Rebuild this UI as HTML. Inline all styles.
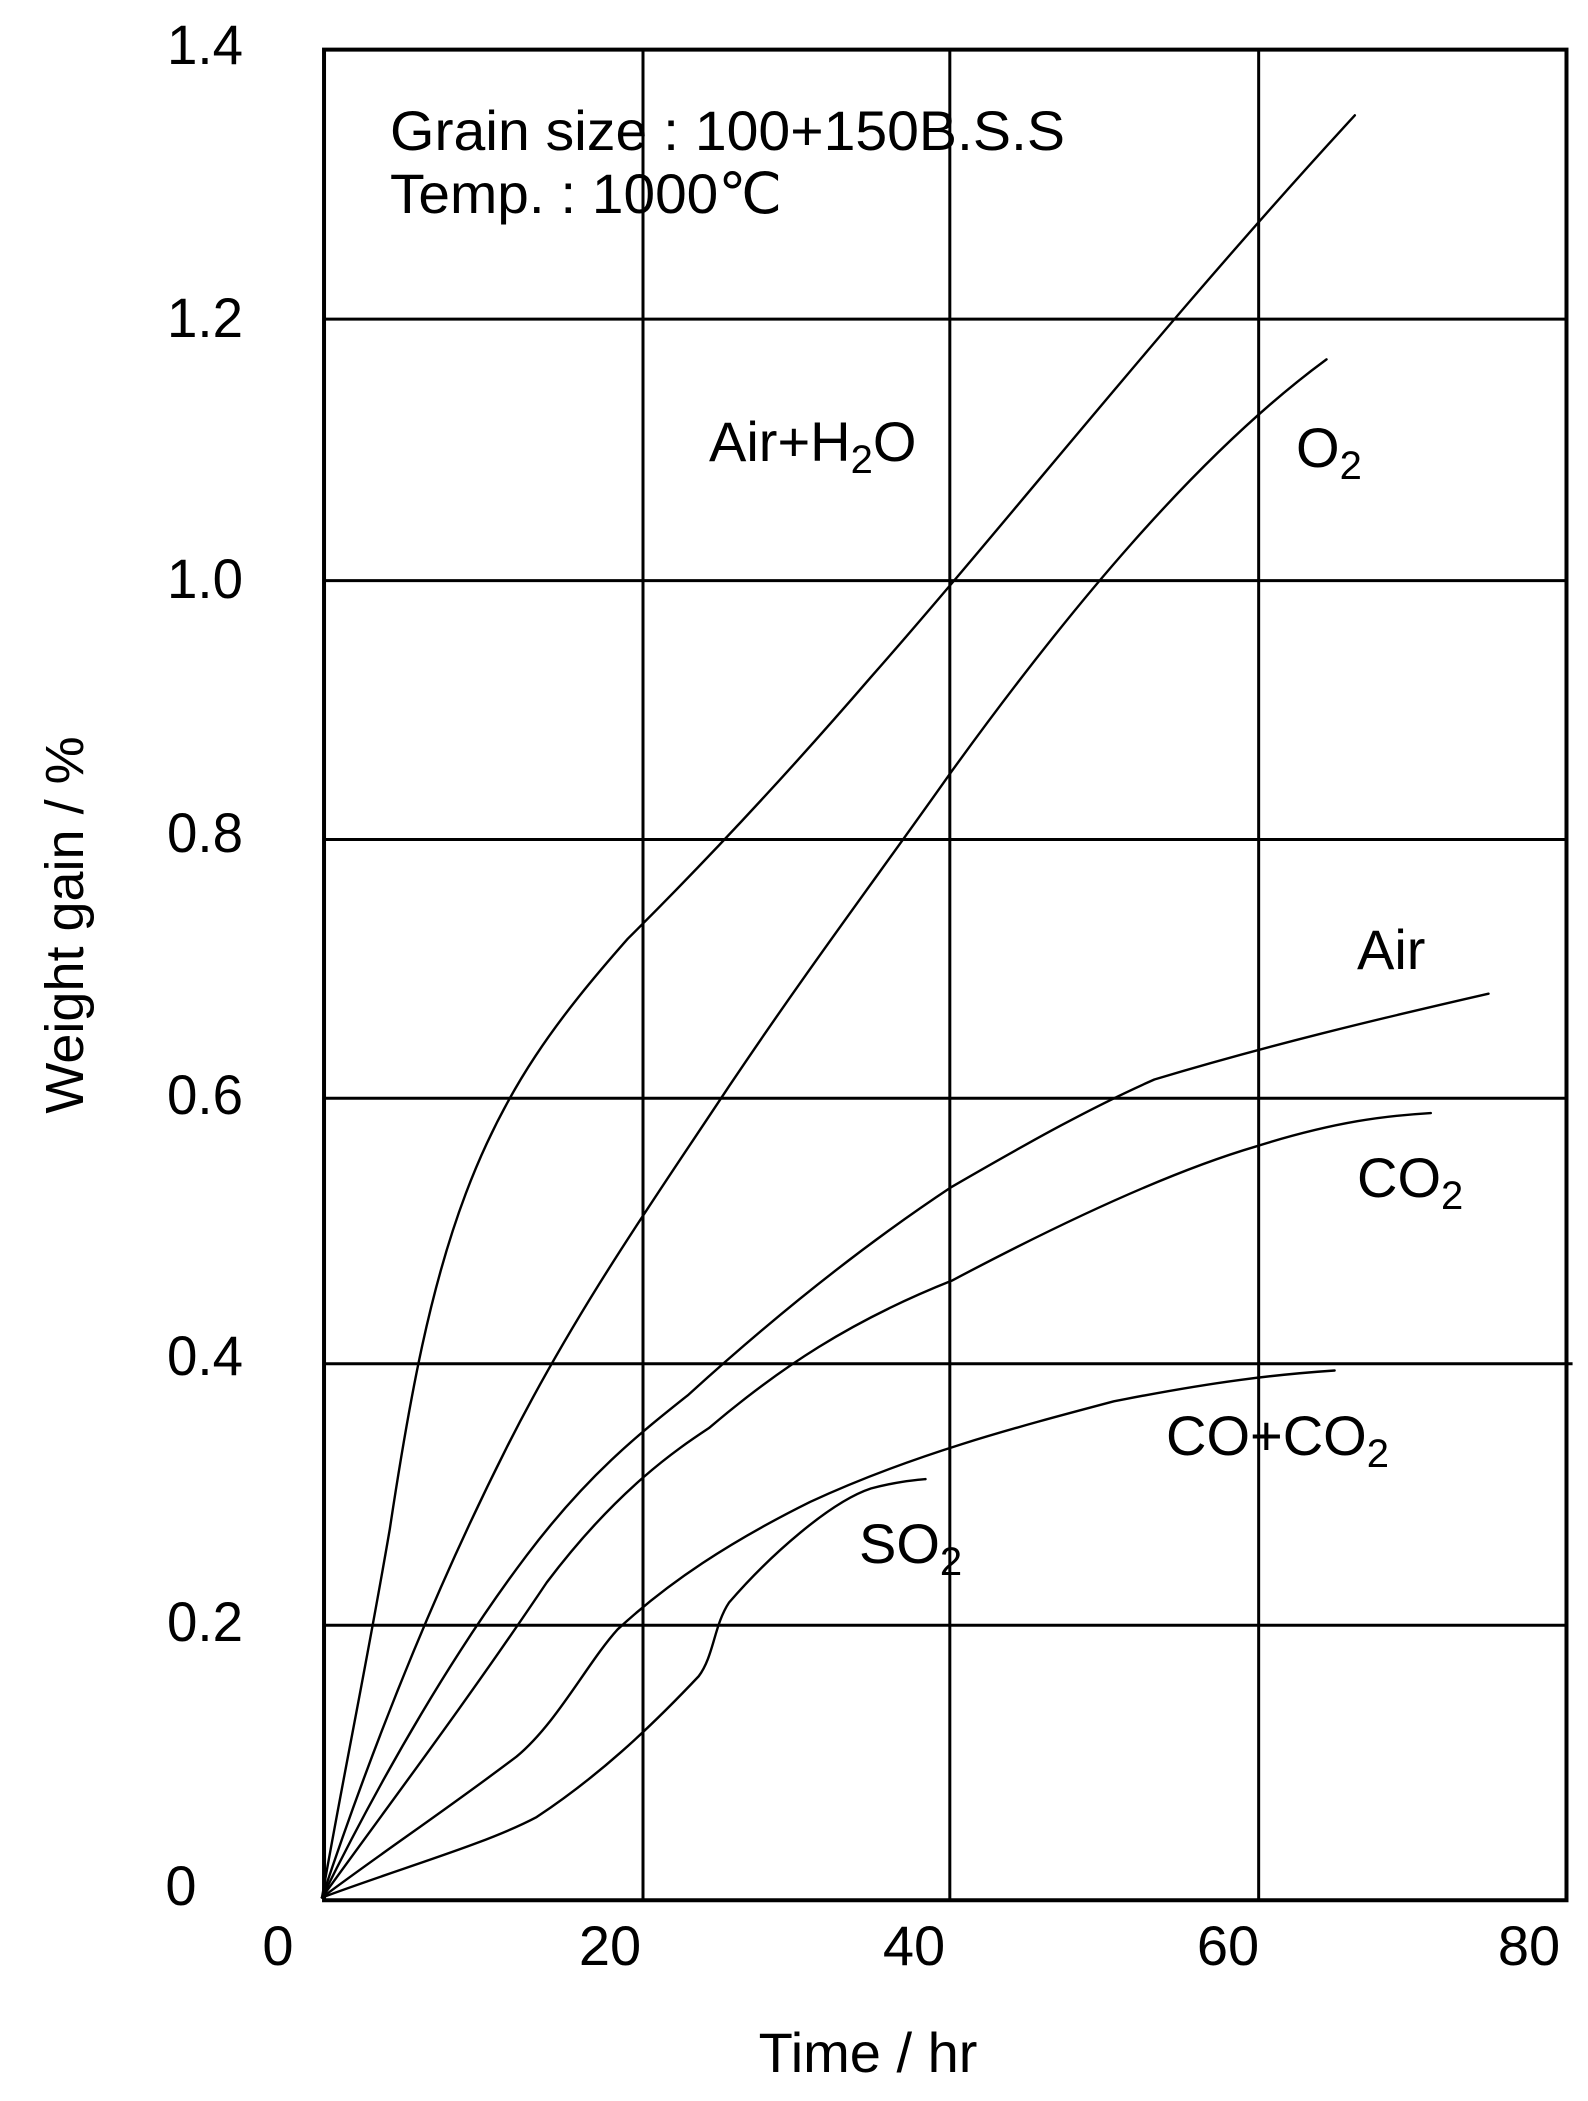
<!DOCTYPE html>
<html><head><meta charset="utf-8"><style>
html,body{margin:0;padding:0;background:#fff;}
svg{display:block;}
text{font-family:"Liberation Sans",sans-serif;fill:#000;}
</style></head><body>
<svg width="1588" height="2101" viewBox="0 0 1588 2101" xmlns="http://www.w3.org/2000/svg">
<g transform="scale(1.0126,1.341)" fill="none" stroke="#000">
 <g stroke-width="3" vector-effect="non-scaling-stroke">
  <line x1="635" y1="37" x2="635" y2="1417" vector-effect="non-scaling-stroke" stroke-width="3"/>
  <line x1="938" y1="37" x2="938" y2="1417" vector-effect="non-scaling-stroke" stroke-width="3"/>
  <line x1="1243" y1="37" x2="1243" y2="1417" vector-effect="non-scaling-stroke" stroke-width="3"/>
  <line x1="320" y1="238" x2="1547" y2="238" vector-effect="non-scaling-stroke" stroke-width="3"/>
  <line x1="320" y1="433" x2="1547" y2="433" vector-effect="non-scaling-stroke" stroke-width="3"/>
  <line x1="320" y1="626" x2="1547" y2="626" vector-effect="non-scaling-stroke" stroke-width="3"/>
  <line x1="320" y1="819" x2="1547" y2="819" vector-effect="non-scaling-stroke" stroke-width="3"/>
  <line x1="320" y1="1017" x2="1553" y2="1017" vector-effect="non-scaling-stroke" stroke-width="3"/>
  <line x1="320" y1="1212" x2="1547" y2="1212" vector-effect="non-scaling-stroke" stroke-width="3"/>
  <rect x="320" y="37" width="1227" height="1380" vector-effect="non-scaling-stroke" stroke-width="4"/>
 </g>
 <g stroke-width="2.4" stroke-linejoin="round" stroke-linecap="round">
  <path vector-effect="non-scaling-stroke" d="M318,1415 C340,1320 360,1250 385,1140 C405,1040 425,960 460,890 C500,810 550,760 620,700 C700,640 780,575 860,505 C1000,385 1150,240 1338,86"/>
  <path vector-effect="non-scaling-stroke" d="M318,1415 C360,1320 420,1200 500,1080 C570,975 650,890 720,810 C800,720 870,650 940,575 C1050,460 1180,340 1310,268"/>
  <path vector-effect="non-scaling-stroke" d="M318,1415 C380,1320 450,1230 520,1160 C580,1100 630,1070 680,1040 C760,985 850,930 940,885 C1020,850 1080,825 1140,805 C1250,780 1360,760 1470,741"/>
  <path vector-effect="non-scaling-stroke" d="M318,1415 C380,1350 460,1270 540,1180 C610,1110 670,1080 700,1065 C770,1020 840,985 940,955 C1040,915 1150,875 1240,855 C1320,836 1370,832 1413,830"/>
  <path vector-effect="non-scaling-stroke" d="M318,1415 C380,1380 440,1350 510,1310 C550,1285 580,1240 610,1215 C660,1180 720,1150 800,1120 C900,1085 1000,1065 1100,1045 C1200,1030 1260,1025 1318,1022"/>
  <path vector-effect="non-scaling-stroke" d="M318,1415 C400,1392 480,1375 530,1355 C590,1325 640,1290 690,1250 C705,1235 705,1212 720,1195 C760,1160 820,1120 860,1110 C885,1105 900,1104 914,1103"/>
 </g>
</g>
<g font-size="56">
 <text x="243" y="64" text-anchor="end" textLength="76" lengthAdjust="spacingAndGlyphs">1.4</text>
 <text x="243" y="337" text-anchor="end" textLength="76" lengthAdjust="spacingAndGlyphs">1.2</text>
 <text x="243" y="598" text-anchor="end" textLength="76" lengthAdjust="spacingAndGlyphs">1.0</text>
 <text x="243" y="852" text-anchor="end" textLength="76" lengthAdjust="spacingAndGlyphs">0.8</text>
 <text x="243" y="1114" text-anchor="end" textLength="76" lengthAdjust="spacingAndGlyphs">0.6</text>
 <text x="243" y="1375" text-anchor="end" textLength="76" lengthAdjust="spacingAndGlyphs">0.4</text>
 <text x="243" y="1641" text-anchor="end" textLength="76" lengthAdjust="spacingAndGlyphs">0.2</text>
 <text x="181" y="1905" text-anchor="middle">0</text>
 <text x="278" y="1965" text-anchor="middle">0</text>
 <text x="610" y="1965" text-anchor="middle">20</text>
 <text x="914" y="1965" text-anchor="middle">40</text>
 <text x="1228" y="1965" text-anchor="middle">60</text>
 <text x="1529" y="1965" text-anchor="middle">80</text>
 <text x="868" y="2072" text-anchor="middle">Time / hr</text>
 <text transform="translate(83,925) rotate(-90)" text-anchor="middle" font-size="54">Weight gain / %</text>
 <text x="390" y="150" textLength="675" lengthAdjust="spacingAndGlyphs">Grain size : 100+150B.S.S</text>
 <text x="390" y="213" textLength="392" lengthAdjust="spacingAndGlyphs">Temp. : 1000℃</text>
 <text x="709" y="461">Air+H<tspan font-size="40" dy="12">2</tspan><tspan dy="-12">O</tspan></text>
 <text x="1296" y="467">O<tspan font-size="40" dy="12">2</tspan></text>
 <text x="1357" y="969">Air</text>
 <text x="1357" y="1197">CO<tspan font-size="40" dy="12">2</tspan></text>
 <text x="1166" y="1455">CO+CO<tspan font-size="40" dy="12">2</tspan></text>
 <text x="859" y="1563">SO<tspan font-size="40" dy="12">2</tspan></text>
</g>
</svg>
</body></html>
